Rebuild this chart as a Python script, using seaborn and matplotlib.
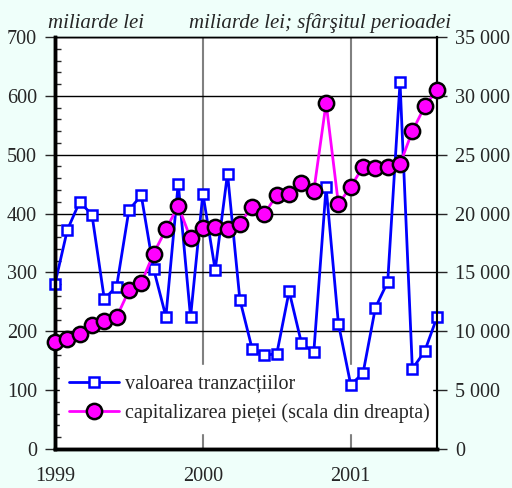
import numpy as np
import pandas as pd
import matplotlib
matplotlib.use("Agg")
import matplotlib.pyplot as plt
from matplotlib.ticker import MultipleLocator, FuncFormatter
import seaborn as sns

sns.set_style("white")
plt.rcParams["font.family"] = ["Liberation Serif", "DejaVu Serif"]

# monthly data, Jan 1999 - Aug 2001
month = list(range(32))
year_ticks = [0, 12, 24]
year_labels = ["1999", "2000", "2001"]

tranzactii = [281, 372, 420, 398, 255, 276, 406, 431, 306, 225, 451, 224,
              434, 304, 468, 254, 170, 159, 162, 268, 180, 164, 445, 213,
              109, 129, 240, 284, 623, 136, 166, 224]
capitalizare = [9130, 9350, 9800, 10500, 10900, 11200, 13470, 14100, 16600, 18650, 20660, 17900,
                18800, 18900, 18700, 19150, 20600, 20000, 21570, 21700, 22560, 21900, 29400, 20800,
                22280, 23980, 23900, 23980, 24200, 27000, 29100, 30500]

lbl_tr = "valoarea tranzacțiilor"
lbl_cap = "capitalizarea pieței (scala din dreapta)"

df = pd.DataFrame({"luna": month, "tranzactii": tranzactii, "capitalizare": capitalizare})

bg = "#effffa"
fig = plt.figure(figsize=(5.12, 4.88), dpi=100, facecolor=bg)
ax = fig.add_axes([55 / 512, 1 - 449 / 488, 382 / 512, 412 / 488])
ax.set_facecolor("white")

sns.lineplot(data=df, x="luna", y="tranzactii", ax=ax, color="#0000ff", linewidth=2,
             marker="s", markersize=7, markerfacecolor="white", markeredgecolor="#0000ff",
             markeredgewidth=1.8, clip_on=False, zorder=6, label=lbl_tr, legend=False)

ax2 = ax.twinx()
sns.lineplot(data=df, x="luna", y="capitalizare", ax=ax2, color="#ff00ff", linewidth=2,
             marker="o", markersize=11, markerfacecolor="#ff00ff", markeredgecolor="black",
             markeredgewidth=1.8, clip_on=False, zorder=6, label=lbl_cap, legend=False)

ax.set_xlim(0, 31)
ax.set_ylim(0, 700)
ax2.set_ylim(0, 35000)

ax.set_xticks(year_ticks)
ax.set_xticklabels(year_labels, fontsize=14.5)
ax.tick_params(axis="x", length=0, pad=13)
ax.grid(axis="x", color="#808080", linewidth=1.5)

ax.yaxis.set_major_locator(MultipleLocator(100))
ax.yaxis.set_minor_locator(MultipleLocator(20))
ax.tick_params(axis="y", which="major", direction="out", length=7, width=1, labelsize=14.5, pad=6, left=True)
ax.tick_params(axis="y", which="minor", direction="in", length=4, width=1, left=True)
ax.grid(axis="y", which="major", color="black", linewidth=1)
ax.set_xlabel("")
ax.set_ylabel("")

ax2.yaxis.set_major_locator(MultipleLocator(5000))
ax2.yaxis.set_major_formatter(FuncFormatter(lambda v, p: f"{int(v):,}".replace(",", " ")))
ax2.tick_params(axis="y", direction="out", length=7, width=1, labelsize=14.5, pad=6)
ax2.set_ylabel("")

for a in (ax, ax2):
    a.spines["left"].set_linewidth(2.5)
    a.spines["bottom"].set_linewidth(2.5)
    a.spines["right"].set_linewidth(1.5)
    a.spines["top"].set_linewidth(1)
    for s in a.spines.values():
        s.set_color("black")

handles = ax.get_lines()[:1] + ax2.get_lines()[:1]
leg = ax.legend(handles, [lbl_tr, lbl_cap], loc="lower left",
                bbox_to_anchor=(0.012, 0.04, 0.976, 0.17), mode="expand",
                fontsize=14.5, frameon=True, fancybox=False, handlelength=2.5,
                handletextpad=0.3, labelspacing=0.5, borderpad=0.45, borderaxespad=0)
leg.get_frame().set_facecolor("white")
leg.get_frame().set_edgecolor("white")
leg.get_frame().set_alpha(1)
leg.set_zorder(5)

fig.text(48 / 512, 1 - 28 / 488, "miliarde lei", fontsize=15, style="italic", ha="left", va="baseline")
fig.text(451 / 512, 1 - 28 / 488, "miliarde lei; sfârşitul perioadei", fontsize=15, style="italic",
         ha="right", va="baseline")

fig.savefig("out.png", dpi=100, facecolor=bg)
